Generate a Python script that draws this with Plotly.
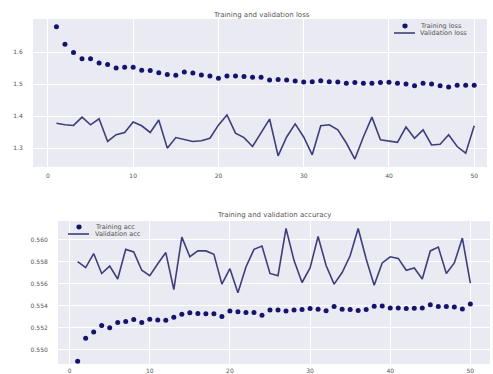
import plotly.graph_objects as go

epochs = list(range(1, 51))

train_loss = [1.680, 1.625, 1.599, 1.580, 1.580, 1.566, 1.562, 1.551, 1.553, 1.553,
              1.544, 1.543, 1.536, 1.530, 1.528, 1.538, 1.535, 1.529, 1.526, 1.519,
              1.526, 1.526, 1.524, 1.522, 1.522, 1.513, 1.515, 1.513, 1.510, 1.507,
              1.508, 1.511, 1.508, 1.507, 1.503, 1.505, 1.503, 1.503, 1.505, 1.506,
              1.503, 1.501, 1.495, 1.503, 1.501, 1.495, 1.491, 1.497, 1.497, 1.497]

val_loss = [1.378, 1.373, 1.371, 1.397, 1.373, 1.392, 1.321, 1.342, 1.349, 1.382,
            1.370, 1.349, 1.388, 1.300, 1.333, 1.326, 1.321, 1.323, 1.331, 1.372,
            1.404, 1.347, 1.333, 1.305, 1.347, 1.391, 1.276, 1.335, 1.376, 1.335,
            1.279, 1.370, 1.373, 1.357, 1.316, 1.266, 1.335, 1.397, 1.326, 1.321,
            1.318, 1.366, 1.331, 1.357, 1.310, 1.312, 1.342, 1.305, 1.284, 1.370]

train_acc = [0.54896, 0.55103, 0.55161, 0.55219, 0.55199, 0.55248, 0.55257, 0.55275, 0.55248, 0.55277,
             0.55271, 0.55268, 0.55295, 0.55322, 0.55336, 0.55330, 0.55327, 0.55327, 0.55301, 0.55351,
             0.55345, 0.55339, 0.55339, 0.55313, 0.55362, 0.55362, 0.55351, 0.55362, 0.55365, 0.55374,
             0.55368, 0.55354, 0.55392, 0.55368, 0.55365, 0.55357, 0.55365, 0.55395, 0.55398, 0.55380,
             0.55380, 0.55374, 0.55377, 0.55380, 0.55409, 0.55392, 0.55392, 0.55389, 0.55371, 0.55415]

val_acc = [0.55801, 0.55746, 0.55874, 0.55693, 0.55760, 0.55643, 0.55912, 0.55889, 0.55722, 0.55673,
           0.55781, 0.55883, 0.55547, 0.56023, 0.55845, 0.55898, 0.55898, 0.55868, 0.55596, 0.55737,
           0.55518, 0.55752, 0.55912, 0.55942, 0.55693, 0.55673, 0.56102, 0.55810, 0.55611, 0.55743,
           0.56029, 0.55766, 0.55596, 0.55702, 0.55854, 0.56102, 0.55825, 0.55585, 0.55789, 0.55845,
           0.55830, 0.55722, 0.55743, 0.55643, 0.55898, 0.55933, 0.55693, 0.55789, 0.56015, 0.55605]

x_ticks = [0, 10, 20, 30, 40, 50]
loss_ticks = [1.3, 1.4, 1.5, 1.6]
acc_ticks = [0.550, 0.552, 0.554, 0.556, 0.558, 0.560]

W, H = 493, 374
DOT = "#14146e"
LINE = "#3e3e7c"
BG = "#eaeaf2"
TXT = "#555555"
FONT = "DejaVu Sans"


def px(x):
    return x / W


def py(y):
    return 1 - y / H


fig = go.Figure()

fig.add_trace(go.Scatter(x=epochs, y=train_loss, mode="markers", name="Training loss",
                         marker=dict(color=DOT, size=5), xaxis="x", yaxis="y"))
fig.add_trace(go.Scatter(x=epochs, y=val_loss, mode="lines", name="Validation loss",
                         line=dict(color=LINE, width=1.6), xaxis="x", yaxis="y"))
fig.add_trace(go.Scatter(x=epochs, y=train_acc, mode="markers", name="Training acc",
                         marker=dict(color=DOT, size=5), xaxis="x2", yaxis="y2"))
fig.add_trace(go.Scatter(x=epochs, y=val_acc, mode="lines", name="Validation acc",
                         line=dict(color=LINE, width=1.6), xaxis="x2", yaxis="y2"))

axis_common = dict(showline=False, zeroline=False, gridcolor="white", gridwidth=1,
                   tickfont=dict(size=6, color=TXT, family=FONT),
                   ticks="outside", tickcolor="rgba(0,0,0,0)")


def legend_block(x_sym, y_top, x_text, labels):
    """Compact matplotlib-like legend: a dot row and a line row."""
    shapes = [
        dict(type="circle", xref="paper", yref="paper", xsizemode="pixel", ysizemode="pixel",
             xanchor=px(x_sym), yanchor=py(y_top), x0=-2.6, x1=2.6, y0=-2.4, y1=2.4,
             fillcolor=DOT, line=dict(width=0)),
        dict(type="line", xref="paper", yref="paper",
             x0=px(x_sym - 11), x1=px(x_sym + 10), y0=py(y_top + 7), y1=py(y_top + 7),
             line=dict(color=LINE, width=1.6)),
    ]
    anns = [
        dict(text=labels[0], x=px(x_text), y=py(y_top), xref="paper", yref="paper",
             xanchor="left", yanchor="middle", showarrow=False,
             font=dict(size=6.5, color=TXT, family=FONT)),
        dict(text=labels[1], x=px(x_text), y=py(y_top + 7), xref="paper", yref="paper",
             xanchor="left", yanchor="middle", showarrow=False,
             font=dict(size=6.5, color=TXT, family=FONT)),
    ]
    return shapes, anns


s1, a1 = legend_block(405, 26, 418, ["Training loss", "Validation loss"])
s2, a2 = legend_block(79, 227, 93, ["Training acc", "Validation acc"])

titles = [
    dict(text="Training and validation loss", x=0.53, y=py(15), xref="paper", yref="paper",
         xanchor="center", yanchor="middle", showarrow=False,
         font=dict(size=7, color=TXT, family=FONT)),
    dict(text="Training and validation accuracy", x=0.556, y=py(215), xref="paper", yref="paper",
         xanchor="center", yanchor="middle", showarrow=False,
         font=dict(size=7, color=TXT, family=FONT)),
]

fig.update_layout(
    width=W, height=H,
    margin=dict(l=0, r=0, t=0, b=0),
    paper_bgcolor="white",
    plot_bgcolor=BG,
    showlegend=False,
    xaxis=dict(domain=[px(33), px(487)], anchor="y", range=[-1.75, 51.5],
               tickvals=x_ticks, ticklen=3, **axis_common),
    yaxis=dict(domain=[py(167), py(19)], anchor="x", range=[1.241, 1.704],
               tickvals=loss_ticks, ticktext=[f"{v:.1f}" for v in loss_ticks], ticklen=8, **axis_common),
    xaxis2=dict(domain=[px(58), px(490)], anchor="y2", range=[-1.45, 52.45],
                tickvals=x_ticks, ticklen=1, **axis_common),
    yaxis2=dict(domain=[py(364), py(221)], anchor="x2", range=[0.5487, 0.5617],
                tickvals=acc_ticks, ticktext=[f"{v:.3f}" for v in acc_ticks], ticklen=8, **axis_common),
    shapes=s1 + s2,
    annotations=titles + a1 + a2,
)

fig.write_html("out.html")
